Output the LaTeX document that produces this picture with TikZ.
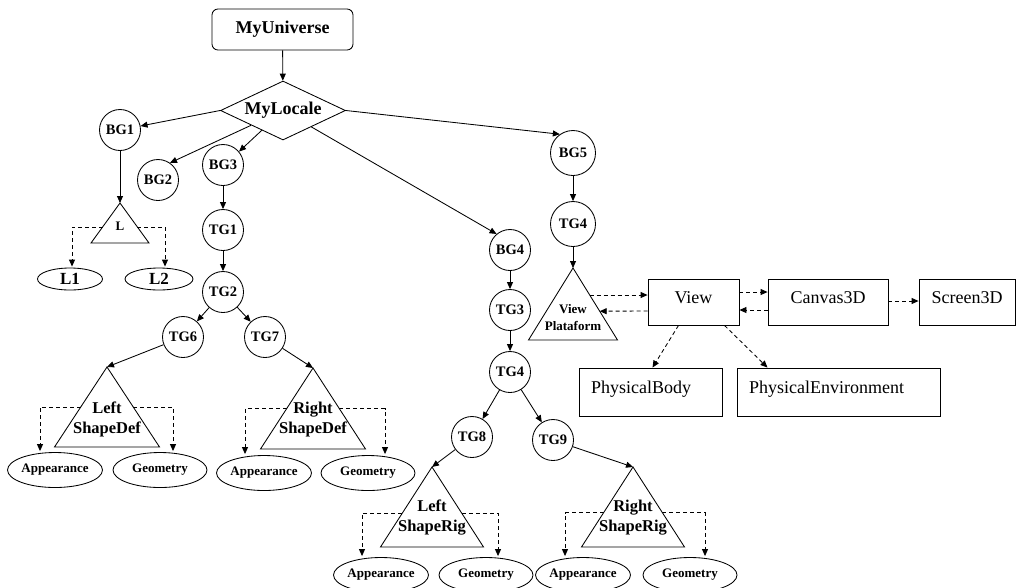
\documentclass[tikz,border=0pt]{standalone}
\usepackage{fontspec}
\setmainfont{Liberation Serif}
\usetikzlibrary{shapes.geometric,arrows.meta,calc}
\newcommand\tri[4]{%
  \draw (#2) coordinate (#1-t) -- ++({#3/2},#4) coordinate (#1-r) -- ++(-#3,0) coordinate (#1-l) -- cycle;}
\tikzset{
  arr/.style={-{Triangle[length=7pt,width=6pt]}},
  darr/.style={arr,dash pattern=on 4pt off 3pt,shorten >=1pt},
  circ/.style={circle,draw,minimum size=41pt,inner sep=0pt,font=\bfseries\fontsize{14.5}{16}\selectfont},
  ell/.style={ellipse,draw,minimum width=94pt,minimum height=35pt,inner sep=0pt,font=\bfseries\fontsize{13}{15}\selectfont},
  tritext/.style={align=center,inner sep=0pt,font=\bfseries\fontsize{16.5}{20}\selectfont},
  box/.style={draw,rectangle,inner sep=0pt,text height=12pt,text depth=10pt,minimum height=46pt,font=\fontsize{18}{21}\selectfont},
}
\begin{document}
\begin{tikzpicture}[x=1pt,y=-1pt,line width=0.85pt]
\useasboundingbox (0,0) rectangle (1016,587);

% top
\node[draw,rounded corners=6pt,minimum width=141pt,minimum height=41pt,inner sep=0pt,
  font=\bfseries\fontsize{18}{20}\selectfont] (MU) at (282.5,29.5) {MyUniverse};
\node[diamond,draw,aspect=2.12,minimum width=125pt,minimum height=59pt,inner sep=0pt,
  font=\bfseries\fontsize{18}{20}\selectfont] (ML) at (283,110.5) {MyLocale};

% circles
\node[circ] (BG1) at (120,130) {BG1};
\node[circ] (BG2) at (158,180) {BG2};
\node[circ] (BG3) at (223,165) {BG3};
\node[circ] (TG1) at (223,230) {TG1};
\node[circ] (TG2) at (223,292) {TG2};
\node[circ] (TG6) at (183,337) {TG6};
\node[circ] (TG7) at (265,337) {TG7};
\node[circ] (BG4) at (510,250) {BG4};
\node[circ] (TG3) at (510,310) {TG3};
\node[circ] (TG4m) at (510,372) {TG4};
\node[circ] (TG8) at (472,437) {TG8};
\node[circ] (TG9) at (553,440) {TG9};
\node[circ,minimum size=45pt] (BG5) at (573,153) {BG5};
\node[circ,minimum size=45pt] (TG4r) at (573,224) {TG4};

% triangles
\tri{L}{120,203}{58}{40}
\node[inner sep=0pt,font=\bfseries\fontsize{13}{15}\selectfont] (Ltxt) at (120,226) {L};
\tri{LSD}{107,367}{105}{80}
\node[tritext] (LSDtxt) at (107,419) {Left\\ShapeDef};
\tri{RSD}{313,368}{105}{81}
\node[tritext] (RSDtxt) at (313,420) {Right\\ShapeDef};
\tri{LSR}{432,467}{103}{80}
\node[tritext] (LSRtxt) at (432,518) {Left\\ShapeRig};
\tri{RSR}{633,467}{103}{80}
\node[tritext] (RSRtxt) at (633,518) {Right\\ShapeRig};
\tri{VP}{573,268}{89}{72}
\node[align=center,inner sep=0pt,font=\bfseries\fontsize{13}{17}\selectfont] (VPtxt) at (573,318) {View\\Plataform};

% ellipses
\node[ell,minimum width=65pt,minimum height=22pt,font=\bfseries\fontsize{17}{19}\selectfont] (L1) at (70,279) {L1};
\node[ell,minimum width=68pt,minimum height=22pt,font=\bfseries\fontsize{17}{19}\selectfont] (L2) at (159,279) {L2};
\node[ell] (App1) at (55,470) {Appearance};
\node[ell] (Geo1) at (160,470) {Geometry};
\node[ell] (App2) at (264,473) {Appearance};
\node[ell] (Geo2) at (368,473) {Geometry};
\node[ell] (App3) at (381,575) {Appearance};
\node[ell] (Geo3) at (486,575) {Geometry};
\node[ell] (App4) at (583,575) {Appearance};
\node[ell] (Geo4) at (690,575) {Geometry};

% boxes
\node[box,minimum width=91pt] (View) at (693.5,302) {View};
\node[box,minimum width=120pt] (C3D) at (828,302) {Canvas3D};
\node[box,minimum width=96pt] (S3D) at (967,302) {Screen3D};
\node[box,minimum height=48pt,text width=119pt,inner xsep=12pt,align=left] (PB) at (650.5,392) {PhysicalBody};
\node[box,minimum height=48pt,text width=179pt,inner xsep=12pt,align=left] (PE) at (838.5,392) {PhysicalEnvironment};

% solid connectors
\draw[arr] (MU) -- (ML);
\draw[arr] (ML.west) -- (BG1);
\draw[arr] (ML) -- (BG2.55);
\draw[arr] (ML) -- (BG3.40);
\draw[arr] (ML) -- (BG4.130);
\draw[arr] (ML.east) -- (BG5.125);
\draw[arr] (BG1) -- (L-t);
\draw[arr] (BG3) -- (TG1);
\draw[arr] (TG1) -- (TG2);
\draw[arr] (TG2) -- (TG6);
\draw[arr] (TG2) -- (TG7);
\draw[arr] (TG6) -- (LSD-t);
\draw[arr] (TG7) -- (RSD-t);
\draw[arr] (BG4) -- (TG3);
\draw[arr] (TG3) -- (TG4m);
\draw[arr] (TG4m) -- (TG8);
\draw[arr] (TG4m) -- (TG9);
\draw[arr] (TG8) -- (LSR-t);
\draw[arr] (TG9) -- (RSR-t);
\draw[arr] (BG5) -- (TG4r);
\draw[arr] (TG4r) -- (VP-t);

% dashed connectors from triangles
\coordinate (L-a) at ($(L-t)!0.6!(L-l)$);
\coordinate (L-b) at ($(L-t)!0.6!(L-r)$);
\draw[darr] (L-a) -| ([xshift=2pt]L1.north);
\draw[darr] (L-b) -| ([xshift=6pt]L2.north);
\coordinate (LSD-a) at ($(LSD-t)!0.5!(LSD-l)$);
\coordinate (LSD-b) at ($(LSD-t)!0.5!(LSD-r)$);
\draw[darr] (LSD-a) -| ([xshift=-15pt]App1.north);
\draw[darr] (LSD-b) -| ([xshift=13pt]Geo1.north);
\coordinate (RSD-a) at ($(RSD-t)!0.5!(RSD-l)$);
\coordinate (RSD-b) at ($(RSD-t)!0.5!(RSD-r)$);
\draw[darr] (RSD-a) -| ([xshift=-19pt]App2.north);
\draw[darr] (RSD-b) -| ([xshift=17pt]Geo2.north);
\coordinate (LSR-a) at ($(LSR-t)!0.58!(LSR-l)$);
\coordinate (LSR-b) at ($(LSR-t)!0.58!(LSR-r)$);
\draw[darr] (LSR-a) -| ([xshift=-19pt]App3.north);
\draw[darr] (LSR-b) -| ([xshift=12pt]Geo3.north);
\coordinate (RSR-a) at ($(RSR-t)!0.57!(RSR-l)$);
\coordinate (RSR-b) at ($(RSR-t)!0.57!(RSR-r)$);
\draw[darr] (RSR-a) -| ([xshift=-18pt]App4.north);
\draw[darr] (RSR-b) -| ([xshift=15pt]Geo4.north);

% view connections
\coordinate (VP-a) at ($(VP-t)!0.375!(VP-r)$);
\coordinate (VP-b) at ($(VP-t)!0.6!(VP-r)$);
\draw[darr,shorten >=0pt] (VP-a) -- (VP-a -| View.west);
\draw[darr,shorten >=0pt] ([yshift=-9pt]View.west) -- (VP-b);
\draw[darr,shorten >=0pt] ([yshift=10pt]View.east) -- ([yshift=10pt]C3D.west);
\draw[darr,shorten >=0pt] ([yshift=-8pt]C3D.west) -- ([yshift=-8pt]View.east);
\draw[darr,shorten >=0pt] ([yshift=1pt]C3D.east) -- ([yshift=1pt]S3D.west);
\draw[darr,shorten >=0pt] ([xshift=-15pt]View.south) -- ([xshift=2pt]PB.north);
\draw[darr,shorten >=0pt] ([xshift=31pt]View.south) -- ([xshift=-71pt]PE.north);
\end{tikzpicture}
\end{document}
